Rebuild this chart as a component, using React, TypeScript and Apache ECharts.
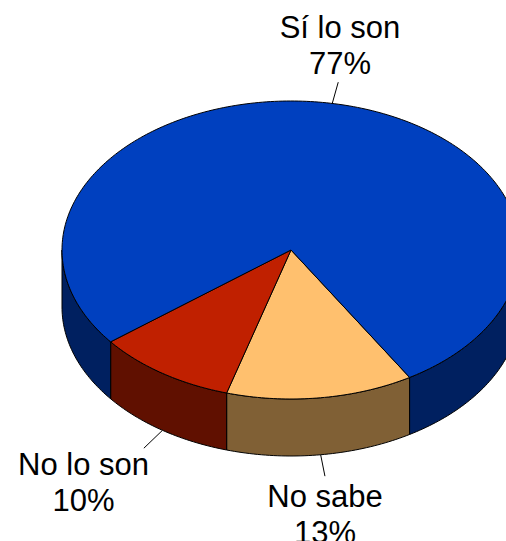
import React, { useEffect, useRef } from "react";
import * as echarts from "echarts";

const categories = ["No sabe", "No lo son", "Sí lo son"];
const values = [13.2, 9.9, 76.9];
const topColors = ["#FFC06E", "#C02000", "#0040BF"];
const sideColors = ["#806035", "#601000", "#002060"];
const labelCenters = [
  [325, 478],
  [83.5, 446],
  [340, 9],
];

const W = 506;
const H = 541;
const CX = 291;
const CY = 250;
const RX = 229;
const RY = 149;
const DEPTH = 57;
const START = 58.8;
const total = values.reduce((a, b) => a + b, 0);

const pt = (deg: number, dy = 0) => {
  const r = (deg * Math.PI) / 180;
  return [CX + RX * Math.cos(r), CY + RY * Math.sin(r) + dy];
};
const arc = (a: number, b: number, dy = 0) => {
  const out: number[][] = [];
  const n = Math.max(2, Math.ceil(Math.abs(b - a)));
  for (let i = 0; i <= n; i++) out.push(pt(a + ((b - a) * i) / n, dy));
  return out;
};
// the parts of [a, b] where the outer wall of the disc faces the viewer
const visibleRanges = (a: number, b: number) => {
  const res: number[][] = [];
  for (const k of [0, 360, 720]) {
    const lo = Math.max(a, k);
    const hi = Math.min(b, k + 180);
    if (hi > lo) res.push([lo, hi]);
  }
  return res;
};

export default function App() {
  const ref = useRef<HTMLDivElement>(null);
  useEffect(() => {
    document.body.style.margin = "0";
    const chart = echarts.init(ref.current!, undefined, { renderer: "svg" });
    chart.setOption({
      animation: false,
      backgroundColor: "#ffffff",
      series: [
        {
          type: "custom",
          coordinateSystem: "none",
          silent: true,
          data: categories.map((name, i) => ({ name, value: values[i] })),
          renderItem: (params: any, api: any) => {
            const i = params.dataIndex;
            let before = 0;
            for (let k = 0; k < i; k++) before += values[k];
            const a0 = START + (before / total) * 360;
            const a1 = a0 + (api.value(0) / total) * 360;
            const mid = (a0 + a1) / 2;
            const children: any[] = [];
            const line = { stroke: "#000000", lineWidth: 1, lineJoin: "round" };
            for (const [lo, hi] of visibleRanges(a0, a1)) {
              children.push({
                type: "polygon",
                shape: { points: [...arc(lo, hi), ...arc(hi, lo, DEPTH)] },
                style: { fill: sideColors[i], ...line },
              });
            }
            children.push({
              type: "polygon",
              shape: { points: [[CX, CY], ...arc(a0, a1)] },
              style: { fill: topColors[i], ...line },
            });
            // leader line from the visible rim, along the slice's middle
            const rad = (mid * Math.PI) / 180;
            const dy = Math.sin(rad) > 0 ? DEPTH : 0;
            const from = pt(mid, dy);
            const to = [
              from[0] + 0.145 * RX * Math.cos(rad),
              from[1] + 0.145 * RY * Math.sin(rad),
            ];
            children.push({
              type: "line",
              shape: { x1: from[0], y1: from[1], x2: to[0], y2: to[1] },
              style: { stroke: "#000000", lineWidth: 1 },
            });
            children.push({
              type: "text",
              style: {
                text: `${categories[i]}\n${Math.round(api.value(0))}%`,
                x: labelCenters[i][0],
                y: labelCenters[i][1],
                align: "center",
                verticalAlign: "top",
                fill: "#000000",
                font: "31px 'Liberation Sans'",
                lineHeight: 36,
              },
            });
            return { type: "group", children };
          },
        },
      ],
    });
    return () => chart.dispose();
  }, []);
  return <div ref={ref} style={{ width: W, height: H }} />;
}
